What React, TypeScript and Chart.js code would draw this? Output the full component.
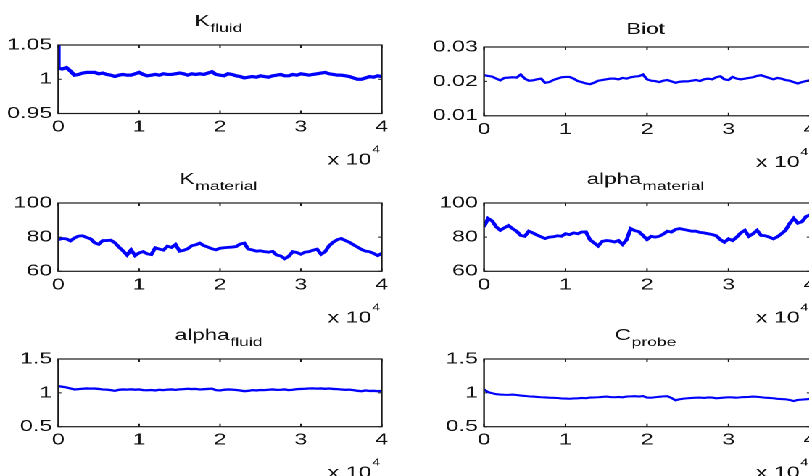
import React, { useEffect, useRef } from 'react';
import { Chart, registerables } from 'chart.js';

Chart.register(...registerables);

// ---------------- data ----------------
const iterations = [
  0, 500, 1000, 1500, 2000, 2500, 3000, 3500, 4000, 4500,
  5000, 5500, 6000, 6500, 7000, 7500, 8000, 8500, 9000, 9500,
  10000, 10500, 11000, 11500, 12000, 12500, 13000, 13500, 14000, 14500,
  15000, 15500, 16000, 16500, 17000, 17500, 18000, 18500, 19000, 19500,
  20000, 20500, 21000, 21500, 22000, 22500, 23000, 23500, 24000, 24500,
  25000, 25500, 26000, 26500, 27000, 27500, 28000, 28500, 29000, 29500,
  30000, 30500, 31000, 31500, 32000, 32500, 33000, 33500, 34000, 34500,
  35000, 35500, 36000, 36500, 37000, 37500, 38000, 38500, 39000, 39500,
  40000,
];

const xTickValues = [0, 10000, 20000, 30000, 40000];
const xTickLabels = ['0', '1', '2', '3', '4'];

const kFluidStart = 1.05;
const kFluid = [
  1.016, 1.015, 1.017, 1.012, 1.006, 1.007, 1.009, 1.010, 1.010, 1.010,
  1.008, 1.009, 1.007, 1.006, 1.004, 1.006, 1.007, 1.006, 1.006, 1.008,
  1.010, 1.007, 1.005, 1.006, 1.007, 1.006, 1.008, 1.007, 1.007, 1.008,
  1.009, 1.008, 1.006, 1.008, 1.007, 1.008, 1.007, 1.009, 1.011, 1.007,
  1.006, 1.005, 1.008, 1.007, 1.005, 1.004, 1.002, 1.003, 1.004, 1.003,
  1.005, 1.004, 1.003, 1.005, 1.006, 1.007, 1.005, 1.005, 1.007, 1.006,
  1.008, 1.007, 1.006, 1.007, 1.008, 1.009, 1.010, 1.008, 1.007, 1.006,
  1.006, 1.005, 1.004, 1.002, 1.000, 1.000, 1.002, 1.004, 1.003, 1.005,
  1.004,
];
const kFluidTicks = [0.95, 1, 1.05];
const kFluidLabels = ['0.95', '1', '1.05'];

const biot = [
  0.0218, 0.0216, 0.0214, 0.0208, 0.0203, 0.0210, 0.0211, 0.0212, 0.0211, 0.0220,
  0.0208, 0.0202, 0.0203, 0.0206, 0.0208, 0.0196, 0.0198, 0.0204, 0.0208, 0.0212,
  0.0213, 0.0213, 0.0208, 0.0201, 0.0198, 0.0194, 0.0192, 0.0196, 0.0202, 0.0204,
  0.0206, 0.0208, 0.0208, 0.0206, 0.0210, 0.0208, 0.0212, 0.0214, 0.0215, 0.0220,
  0.0206, 0.0202, 0.0201, 0.0198, 0.0202, 0.0204, 0.0200, 0.0196, 0.0199, 0.0200,
  0.0200, 0.0202, 0.0204, 0.0201, 0.0206, 0.0208, 0.0206, 0.0212, 0.0215, 0.0206,
  0.0204, 0.0213, 0.0208, 0.0206, 0.0208, 0.0210, 0.0212, 0.0216, 0.0218, 0.0214,
  0.0210, 0.0206, 0.0210, 0.0208, 0.0204, 0.0202, 0.0198, 0.0194, 0.0198, 0.0201,
  0.0203,
];
const biotTicks = [0.01, 0.02, 0.03];
const biotLabels = ['0.01', '0.02', '0.03'];

const kMaterial = [
  78.6, 79.2, 79.0, 77.8, 79.5, 80.6, 80.8, 79.8, 79.0, 76.7,
  75.8, 78.0, 78.0, 78.2, 76.7, 74.2, 72.0, 69.5, 72.6, 69.2,
  70.8, 71.5, 70.2, 69.8, 73.8, 73.0, 72.4, 74.7, 74.0, 75.7,
  71.8, 72.3, 73.2, 75.0, 75.5, 76.5, 75.0, 74.2, 73.2, 72.6,
  73.5, 73.8, 74.0, 74.2, 74.5, 76.0, 76.5, 73.0, 72.5, 71.8,
  72.0, 71.5, 71.2, 71.7, 69.5, 69.0, 67.4, 68.8, 71.5, 71.0,
  70.0, 71.2, 71.5, 72.3, 73.0, 70.0, 71.5, 75.0, 77.0, 78.5,
  79.2, 78.0, 77.0, 75.5, 74.2, 72.8, 71.8, 71.5, 70.5, 69.2,
  70.5,
];
const alphaMaterial = [
  86.0, 91.0, 89.5, 86.0, 84.0, 85.5, 86.8, 85.0, 83.5, 81.0,
  80.5, 83.5, 82.5, 81.2, 80.2, 79.2, 80.0, 80.2, 80.8, 80.5,
  82.0, 81.5, 82.5, 82.0, 83.0, 83.1, 78.5, 76.7, 74.8, 77.5,
  78.0, 77.8, 77.2, 78.0, 75.7, 78.5, 85.0, 83.8, 83.2, 81.0,
  78.6, 80.5, 80.0, 80.5, 81.8, 83.5, 83.0, 84.5, 85.0, 84.5,
  84.0, 83.5, 83.5, 82.8, 82.5, 82.0, 81.5, 80.8, 78.5, 77.0,
  79.0, 78.0, 80.0, 82.5, 84.0, 80.5, 82.0, 84.0, 81.0, 80.8,
  80.0, 79.0, 80.2, 82.0, 84.0, 88.0, 91.0, 88.2, 89.0, 92.0,
  93.0,
];
const materialTicks = [60, 80, 100];
const materialLabels = ['60', '80', '100'];

const alphaFluid = [
  1.10, 1.09, 1.08, 1.065, 1.05, 1.055, 1.06, 1.065, 1.062, 1.063,
  1.058, 1.05, 1.048, 1.04, 1.03, 1.045, 1.05, 1.048, 1.052, 1.047,
  1.05, 1.04, 1.038, 1.042, 1.036, 1.045, 1.04, 1.048, 1.05, 1.044,
  1.052, 1.055, 1.06, 1.056, 1.058, 1.05, 1.054, 1.058, 1.062, 1.04,
  1.035, 1.045, 1.05, 1.048, 1.042, 1.035, 1.025, 1.03, 1.04, 1.036,
  1.042, 1.04, 1.046, 1.05, 1.044, 1.046, 1.05, 1.04, 1.045, 1.055,
  1.058, 1.06, 1.064, 1.066, 1.062, 1.065, 1.06, 1.064, 1.058, 1.055,
  1.05, 1.045, 1.048, 1.04, 1.03, 1.025, 1.035, 1.028, 1.03, 1.025,
  1.028,
];
const cProbe = [
  1.05, 1.01, 0.995, 0.98, 0.975, 0.972, 0.97, 0.974, 0.968, 0.96,
  0.955, 0.948, 0.945, 0.94, 0.935, 0.932, 0.928, 0.926, 0.924, 0.918,
  0.916, 0.913, 0.918, 0.92, 0.925, 0.922, 0.93, 0.932, 0.935, 0.94,
  0.945, 0.938, 0.935, 0.94, 0.935, 0.945, 0.948, 0.95, 0.946, 0.952,
  0.93, 0.928, 0.935, 0.942, 0.948, 0.95, 0.925, 0.89, 0.905, 0.915,
  0.92, 0.925, 0.928, 0.93, 0.925, 0.932, 0.93, 0.92, 0.925, 0.93,
  0.935, 0.932, 0.928, 0.935, 0.938, 0.94, 0.945, 0.942, 0.935, 0.928,
  0.925, 0.92, 0.912, 0.908, 0.905, 0.895, 0.88, 0.895, 0.9, 0.905,
  0.91,
];
const unitTicks = [0.5, 1, 1.5];
const unitLabels = ['0.5', '1', '1.5'];

// ---------------- layout ----------------
const S = 1.45; // horizontal stretch of the whole figure
const FONT = '"Liberation Sans", Arial, Helvetica, sans-serif';
const TEXT = '#111111';

type PanelCfg = {
  main: string;
  sub: string;
  values: number[];
  start?: number;
  yTicks: number[];
  yLabels: string[];
  col: 0 | 1;
  axisTop: number;
  axisBottom: number;
  lineWidth: number;
};

const cols = [
  { canvasLeftU: 0, widthU: 275, axisLeft: 58.3, axisRight: 381.7 },
  { canvasLeftU: 290, widthU: 280, axisLeft: 484, axisRight: 810 },
];

const panels: PanelCfg[] = [
  { main: 'K', sub: 'fluid', values: kFluid, start: kFluidStart, yTicks: kFluidTicks, yLabels: kFluidLabels, col: 0, axisTop: 45, axisBottom: 113.5, lineWidth: 3.2 },
  { main: 'Biot', sub: '', values: biot, yTicks: biotTicks, yLabels: biotLabels, col: 1, axisTop: 46.7, axisBottom: 115.5, lineWidth: 2.2 },
  { main: 'K', sub: 'material', values: kMaterial, yTicks: materialTicks, yLabels: materialLabels, col: 0, axisTop: 203, axisBottom: 271.3, lineWidth: 2.8 },
  { main: 'alpha', sub: 'material', values: alphaMaterial, yTicks: materialTicks, yLabels: materialLabels, col: 1, axisTop: 203, axisBottom: 271.3, lineWidth: 2.8 },
  { main: 'alpha', sub: 'fluid', values: alphaFluid, yTicks: unitTicks, yLabels: unitLabels, col: 0, axisTop: 359, axisBottom: 426.7, lineWidth: 2.3 },
  { main: 'C', sub: 'probe', values: cProbe, yTicks: unitTicks, yLabels: unitLabels, col: 1, axisTop: 359, axisBottom: 426.7, lineWidth: 2.1 },
];

const TOP_PAD = 40;
const CANVAS_H = 170;
const X_AXIS_H = 20;

const decorPlugin = {
  id: 'matlabDecor',
  afterDraw(chart: any, _args: any, opts: any) {
    const { ctx, chartArea: a, scales } = chart;
    ctx.save();
    // box
    ctx.strokeStyle = '#1a1a1a';
    ctx.lineWidth = 1.2;
    ctx.strokeRect(a.left, a.top, a.right - a.left, a.bottom - a.top);
    // inward ticks
    const tv = 3;
    const th = 3.2 / S;
    ctx.lineWidth = 1;
    ctx.beginPath();
    for (const t of xTickValues) {
      const px = scales.x.getPixelForValue(t);
      ctx.moveTo(px, a.bottom);
      ctx.lineTo(px, a.bottom - tv);
      ctx.moveTo(px, a.top);
      ctx.lineTo(px, a.top + tv);
    }
    for (const t of opts.yTicks as number[]) {
      const py = scales.y.getPixelForValue(t);
      ctx.moveTo(a.left, py);
      ctx.lineTo(a.left + th, py);
      ctx.moveTo(a.right, py);
      ctx.lineTo(a.right - th, py);
    }
    ctx.stroke();

    // title with subscript
    ctx.fillStyle = TEXT;
    ctx.textBaseline = 'alphabetic';
    ctx.textAlign = 'left';
    ctx.font = `15.5px ${FONT}`;
    const w1 = ctx.measureText(opts.main).width;
    ctx.font = `12px ${FONT}`;
    const w2 = opts.sub ? ctx.measureText(opts.sub).width + 0.5 : 0;
    const cx = (a.left + a.right) / 2 - 1.5 / S;
    const x0 = cx - (w1 + w2) / 2;
    const lowBase = a.top - 13;
    const mainBase = opts.sub ? lowBase - 6 : lowBase;
    ctx.font = `15.5px ${FONT}`;
    ctx.fillText(opts.main, x0, mainBase);
    if (opts.sub) {
      ctx.font = `12px ${FONT}`;
      ctx.fillText(opts.sub, x0 + w1 + 0.5, lowBase);
    }

    // exponent label "x 10^4"
    ctx.font = `10px ${FONT}`;
    const ws = ctx.measureText('4').width;
    const rx = a.right - 1.5 / S;
    const base = a.bottom + 51;
    ctx.fillText('4', rx - ws, base - 12);
    ctx.font = `16px ${FONT}`;
    ctx.textAlign = 'right';
    ctx.fillText('x 10', rx - ws - 0.5, base);
    ctx.restore();
  },
};

function Panel({ cfg }: { cfg: PanelCfg }) {
  const ref = useRef<HTMLCanvasElement | null>(null);
  const col = cols[cfg.col];
  const canvasTop = cfg.axisTop - TOP_PAD;
  const plotH = cfg.axisBottom - cfg.axisTop;
  const yW = col.axisLeft / S - col.canvasLeftU;
  const padRight = col.canvasLeftU + col.widthU - col.axisRight / S;
  const padBottom = CANVAS_H - TOP_PAD - plotH - X_AXIS_H;

  useEffect(() => {
    if (!ref.current) return;
    const points = iterations.map((x, i) => ({ x, y: cfg.values[i] }));
    if (cfg.start !== undefined) points.unshift({ x: 0, y: cfg.start });
    const yMin = cfg.yTicks[0];
    const yMax = cfg.yTicks[cfg.yTicks.length - 1];
    const chart = new Chart(ref.current, {
      type: 'line',
      data: {
        datasets: [
          {
            data: points,
            borderColor: '#0000ff',
            borderWidth: cfg.lineWidth,
            pointRadius: 0,
            tension: 0,
            fill: false,
          } as any,
        ],
      },
      options: {
        animation: false,
        responsive: false,
        devicePixelRatio: 2,
        events: [],
        layout: { padding: { top: TOP_PAD, left: 0, right: padRight, bottom: padBottom } },
        plugins: {
          legend: { display: false },
          tooltip: { enabled: false },
          title: { display: false },
          matlabDecor: { main: cfg.main, sub: cfg.sub, yTicks: cfg.yTicks },
        } as any,
        scales: {
          x: {
            type: 'linear',
            min: 0,
            max: 40000,
            afterBuildTicks: (s: any) => {
              s.ticks = xTickValues.map((v) => ({ value: v }));
            },
            afterFit: (s: any) => {
              s.height = X_AXIS_H;
              s.paddingLeft = 0;
              s.paddingRight = 0;
            },
            ticks: {
              autoSkip: false,
              maxRotation: 0,
              padding: 4,
              color: TEXT,
              font: { family: FONT, size: 16 },
              callback: (_v: any, i: number) => xTickLabels[i],
            },
            grid: { display: false, drawTicks: false },
            border: { display: false },
          },
          y: {
            type: 'linear',
            min: yMin,
            max: yMax,
            afterBuildTicks: (s: any) => {
              s.ticks = cfg.yTicks.map((v) => ({ value: v }));
            },
            afterFit: (s: any) => {
              s.width = yW;
              s.paddingTop = 0;
              s.paddingBottom = 0;
            },
            ticks: {
              autoSkip: false,
              padding: 4.2,
              color: TEXT,
              font: { family: FONT, size: 16 },
              callback: (_v: any, i: number) => cfg.yLabels[i],
            },
            grid: { display: false, drawTicks: false },
            border: { display: false },
          },
        },
      },
      plugins: [decorPlugin as any],
    });
    return () => chart.destroy();
  }, [cfg]);

  return (
    <canvas
      ref={ref}
      width={col.widthU}
      height={CANVAS_H}
      style={{ position: 'absolute', left: col.canvasLeftU, top: canvasTop, display: 'block' }}
    />
  );
}

export default function App() {
  return (
    <div
      style={{
        position: 'fixed',
        left: 0,
        top: 0,
        width: 809,
        height: 476,
        overflow: 'hidden',
        background: '#ffffff',
      }}
    >
      <div
        style={{
          position: 'absolute',
          left: 0,
          top: 0,
          width: 600,
          height: 476,
          transform: `scaleX(${S})`,
          transformOrigin: '0 0',
        }}
      >
        {panels.map((p, i) => (
          <Panel key={i} cfg={p} />
        ))}
      </div>
    </div>
  );
}
